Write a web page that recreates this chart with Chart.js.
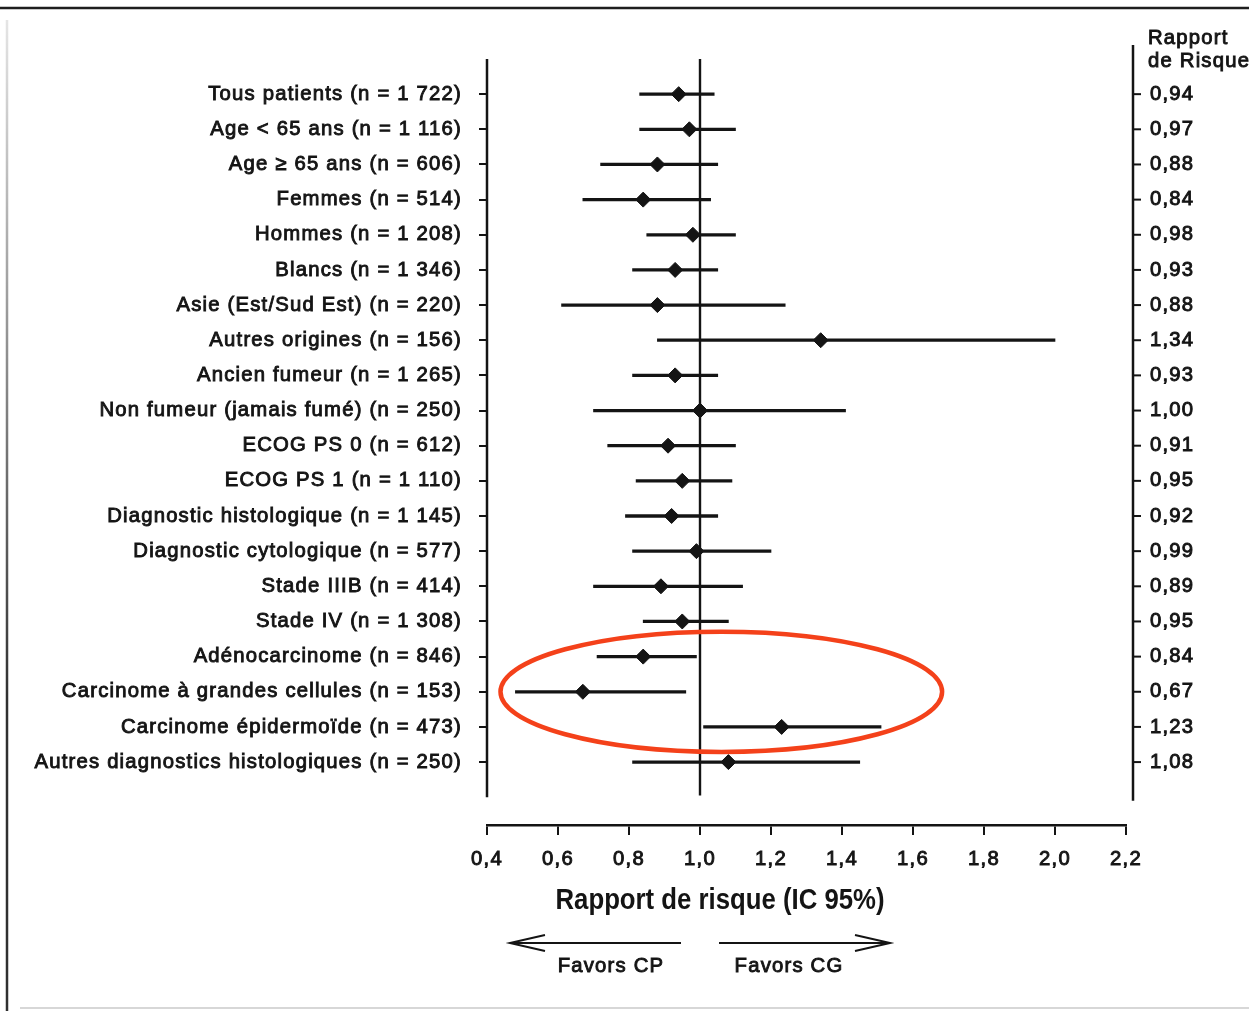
<!DOCTYPE html>
<html lang="fr">
<head>
<meta charset="utf-8">
<title>Rapport de risque par sous-groupe</title>
<script src="https://cdn.jsdelivr.net/npm/chart.js@4.4.1/dist/chart.umd.min.js"></script>
<style>
  html, body { margin: 0; padding: 0; background: #fff; }
  #wrap { position: relative; width: 1249px; height: 1011px; }
  canvas { display: block; }
</style>
</head>
<body>
<div id="wrap"><canvas id="forest" width="1249" height="1011"></canvas></div>
<script>
// Sous-groupes, rapports de risque et intervalles de confiance à 95 %
const subgroups = [
  'Tous patients (n = 1 722)',
  'Age < 65 ans (n = 1 116)',
  'Age ≥ 65 ans (n = 606)',
  'Femmes (n = 514)',
  'Hommes (n = 1 208)',
  'Blancs (n = 1 346)',
  'Asie (Est/Sud Est) (n = 220)',
  'Autres origines (n = 156)',
  'Ancien fumeur (n = 1 265)',
  'Non fumeur (jamais fumé) (n = 250)',
  'ECOG PS 0 (n = 612)',
  'ECOG PS 1 (n = 1 110)',
  'Diagnostic histologique (n = 1 145)',
  'Diagnostic cytologique (n = 577)',
  'Stade IIIB (n = 414)',
  'Stade IV (n = 1 308)',
  'Adénocarcinome (n = 846)',
  'Carcinome à grandes cellules (n = 153)',
  'Carcinome épidermoïde (n = 473)',
  'Autres diagnostics histologiques (n = 250)'
];
const hazardRatio = [0.94, 0.97, 0.88, 0.84, 0.98, 0.93, 0.88, 1.34, 0.93, 1.00,
                     0.91, 0.95, 0.92, 0.99, 0.89, 0.95, 0.84, 0.67, 1.23, 1.08];
const ciLower     = [0.83, 0.83, 0.72, 0.67, 0.85, 0.81, 0.61, 0.88, 0.81, 0.70,
                     0.74, 0.82, 0.79, 0.81, 0.70, 0.84, 0.71, 0.48, 1.01, 0.81];
const ciUpper     = [1.04, 1.10, 1.05, 1.03, 1.10, 1.05, 1.24, 2.00, 1.05, 1.41,
                     1.10, 1.09, 1.05, 1.20, 1.12, 1.08, 0.99, 0.96, 1.51, 1.45];
const xTicks = [0.4, 0.6, 0.8, 1.0, 1.2, 1.4, 1.6, 1.8, 2.0, 2.2];
const referenceHR = 1.0;

const INK = '#141414';
const FONT = "'Liberation Sans', Arial, Helvetica, sans-serif";
const FONT_SIZE = 20.3;
const fr = (v, d) => v.toFixed(d).replace('.', ',');
const rowTicks = s => { s.ticks = subgroups.map((_, i) => ({ value: i + 1 })); };
const noPad = s => { s.paddingTop = 0; s.paddingBottom = 0; s.paddingLeft = 0; s.paddingRight = 0; };

// Lines, titles, arrows and highlight ellipse drawn around the plot area
const forestFrame = {
  id: 'forestFrame',
  beforeDraw(chart) {
    const ctx = chart.ctx;
    ctx.save();
    ctx.fillStyle = '#fff';
    ctx.fillRect(0, 0, chart.width, chart.height);
    ctx.restore();
    ctx.letterSpacing = '1.2px';
  },
  beforeDatasetsDraw(chart) {
    const { ctx, scales: { x, y } } = chart;
    const xr = x.getPixelForValue(referenceHR);
    ctx.save();
    ctx.strokeStyle = INK;
    ctx.lineWidth = 2.4;
    ctx.beginPath();
    ctx.moveTo(xr, y.getPixelForValue(0));
    ctx.lineTo(xr, y.getPixelForValue(20.95));
    ctx.stroke();
    ctx.restore();
  },
  afterDraw(chart) {
    const { ctx, chartArea: ca, scales: { x, y } } = chart;
    ctx.save();
    ctx.strokeStyle = INK;
    ctx.fillStyle = INK;
    ctx.lineCap = 'butt';

    // left vertical axis
    ctx.lineWidth = 2.5;
    ctx.beginPath();
    ctx.moveTo(ca.left, y.getPixelForValue(0));
    ctx.lineTo(ca.left, y.getPixelForValue(21));
    ctx.stroke();

    // right vertical axis with its tick marks
    const rx = ca.right + 7;
    ctx.beginPath();
    ctx.moveTo(rx, y.getPixelForValue(-0.4));
    ctx.lineTo(rx, y.getPixelForValue(21.1));
    ctx.stroke();
    ctx.lineWidth = 2;
    subgroups.forEach((_, i) => {
      const py = y.getPixelForValue(i + 1);
      ctx.beginPath();
      ctx.moveTo(rx, py);
      ctx.lineTo(rx + 8, py);
      ctx.stroke();
    });

    // header above the right column
    ctx.font = `${FONT_SIZE}px ${FONT}`;
    ctx.textAlign = 'left';
    ctx.textBaseline = 'middle';
    ctx.lineWidth = 0.9;
    ctx.strokeStyle = INK;
    [['Rapport', 38], ['de Risque', 61]].forEach(([t, ty]) => {
      ctx.fillText(t, rx + 15, ty);
      ctx.strokeText(t, rx + 15, ty);
    });

    // axis title (condensed bold)
    ctx.save();
    ctx.letterSpacing = '0px';
    ctx.font = `bold 29px ${FONT}`;
    const title = 'Rapport de risque (IC 95%)';
    const w = ctx.measureText(title).width;
    const sx = 329 / w;
    ctx.translate(720, 901);
    ctx.scale(sx, 1);
    ctx.textAlign = 'center';
    ctx.fillText(title, 0, 0);
    ctx.restore();

    // direction arrows
    ctx.lineWidth = 2;
    ctx.strokeStyle = INK;
    const ay = 943;
    ctx.beginPath();
    ctx.moveTo(681, ay); ctx.lineTo(510, ay);
    ctx.moveTo(545, ay - 8); ctx.lineTo(510, ay); ctx.lineTo(545, ay + 8);
    ctx.moveTo(719, ay); ctx.lineTo(890, ay);
    ctx.moveTo(855, ay - 8); ctx.lineTo(890, ay); ctx.lineTo(855, ay + 8);
    ctx.stroke();

    ctx.font = `${FONT_SIZE}px ${FONT}`;
    ctx.textAlign = 'center';
    ctx.lineWidth = 0.9;
    [['Favors CP', 611], ['Favors CG', 789]].forEach(([t, tx]) => {
      ctx.fillText(t, tx, 966);
      ctx.strokeText(t, tx, 966);
    });

    // highlight around the histology subgroups
    const cx = x.getPixelForValue(1.06);
    const cy = y.getPixelForValue(18);
    const erx = x.getPixelForValue(1.06 + 0.622) - cx;
    const ery = y.getPixelForValue(18 + 1.71) - cy;
    ctx.strokeStyle = '#f4411a';
    ctx.lineWidth = 4.5;
    ctx.beginPath();
    ctx.ellipse(cx, cy, erx, ery, 0, 0, Math.PI * 2);
    ctx.stroke();

    // page edges
    ctx.strokeStyle = '#1e1e1e';
    ctx.lineWidth = 2.5;
    ctx.beginPath();
    ctx.moveTo(0, 8); ctx.lineTo(chart.width, 8);
    ctx.stroke();
    const g = ctx.createLinearGradient(0, 20, 0, 700);
    g.addColorStop(0, 'rgba(40,40,40,0.12)');
    g.addColorStop(1, 'rgba(25,25,25,0.9)');
    ctx.strokeStyle = g;
    ctx.lineWidth = 2.5;
    ctx.beginPath();
    ctx.moveTo(7, 20); ctx.lineTo(7, chart.height);
    ctx.stroke();
    ctx.strokeStyle = 'rgba(150,150,150,0.5)';
    ctx.lineWidth = 1.5;
    ctx.beginPath();
    ctx.moveTo(20, 1008); ctx.lineTo(chart.width, 1008);
    ctx.stroke();
    ctx.restore();
  }
};

const tickFont = { family: FONT, size: FONT_SIZE };

new Chart(document.getElementById('forest'), {
  type: 'bar',
  data: {
    datasets: [
      {
        type: 'bar',
        label: 'IC 95%',
        data: subgroups.map((_, i) => ({ y: i + 1, x: [ciLower[i], ciUpper[i]] })),
        backgroundColor: INK,
        borderWidth: 0,
        barThickness: 2.6,
        grouped: false,
        xAxisID: 'x',
        yAxisID: 'y'
      },
      {
        type: 'scatter',
        label: 'Rapport de risque',
        data: hazardRatio.map((v, i) => ({ x: v, y: i + 1 })),
        pointStyle: 'rectRot',
        pointRadius: 7.5,
        backgroundColor: INK,
        borderColor: INK,
        borderWidth: 1,
        xAxisID: 'x',
        yAxisID: 'y'
      }
    ]
  },
  options: {
    indexAxis: 'y',
    responsive: false,
    devicePixelRatio: 1,
    animation: false,
    layout: { padding: { top: 59, left: 0, right: 0, bottom: 0 } },
    plugins: { legend: { display: false }, tooltip: { enabled: false } },
    scales: {
      x: {
        type: 'linear',
        position: 'bottom',
        offset: false,
        min: 0.4,
        max: 2.2,
        afterBuildTicks: s => { s.ticks = xTicks.map(v => ({ value: v })); },
        afterFit: s => { s.height = 186; noPad(s); },
        grid: { offset: false, drawOnChartArea: false, drawTicks: true, tickLength: 10, color: INK, lineWidth: 2 },
        border: { display: true, color: INK, width: 2.4 },
        ticks: {
          autoSkip: false, maxRotation: 0, padding: 12,
          font: tickFont, color: INK, textStrokeColor: INK, textStrokeWidth: 0.9,
          callback: v => fr(v, 1)
        }
      },
      y: {
        type: 'linear',
        position: 'left',
        offset: false,
        reverse: true,
        min: 0,
        max: 21.79,
        afterBuildTicks: rowTicks,
        afterFit: s => { s.width = 487; noPad(s); },
        grid: { offset: false, drawOnChartArea: false, drawTicks: true, tickLength: 8, color: INK, lineWidth: 2 },
        border: { display: false },
        ticks: {
          autoSkip: false, padding: 17,
          font: tickFont, color: INK, textStrokeColor: INK, textStrokeWidth: 0.9,
          callback: v => subgroups[v - 1]
        }
      },
      y2: {
        type: 'linear',
        position: 'right',
        offset: false,
        reverse: true,
        min: 0,
        max: 21.79,
        afterBuildTicks: rowTicks,
        afterFit: s => { s.width = 123; noPad(s); },
        grid: { display: false, drawTicks: false, offset: false },
        border: { display: false },
        ticks: {
          autoSkip: false, padding: 24,
          font: tickFont, color: INK, textStrokeColor: INK, textStrokeWidth: 0.9,
          callback: v => fr(hazardRatio[v - 1], 2)
        }
      }
    }
  },
  plugins: [forestFrame]
});
</script>
</body>
</html>
